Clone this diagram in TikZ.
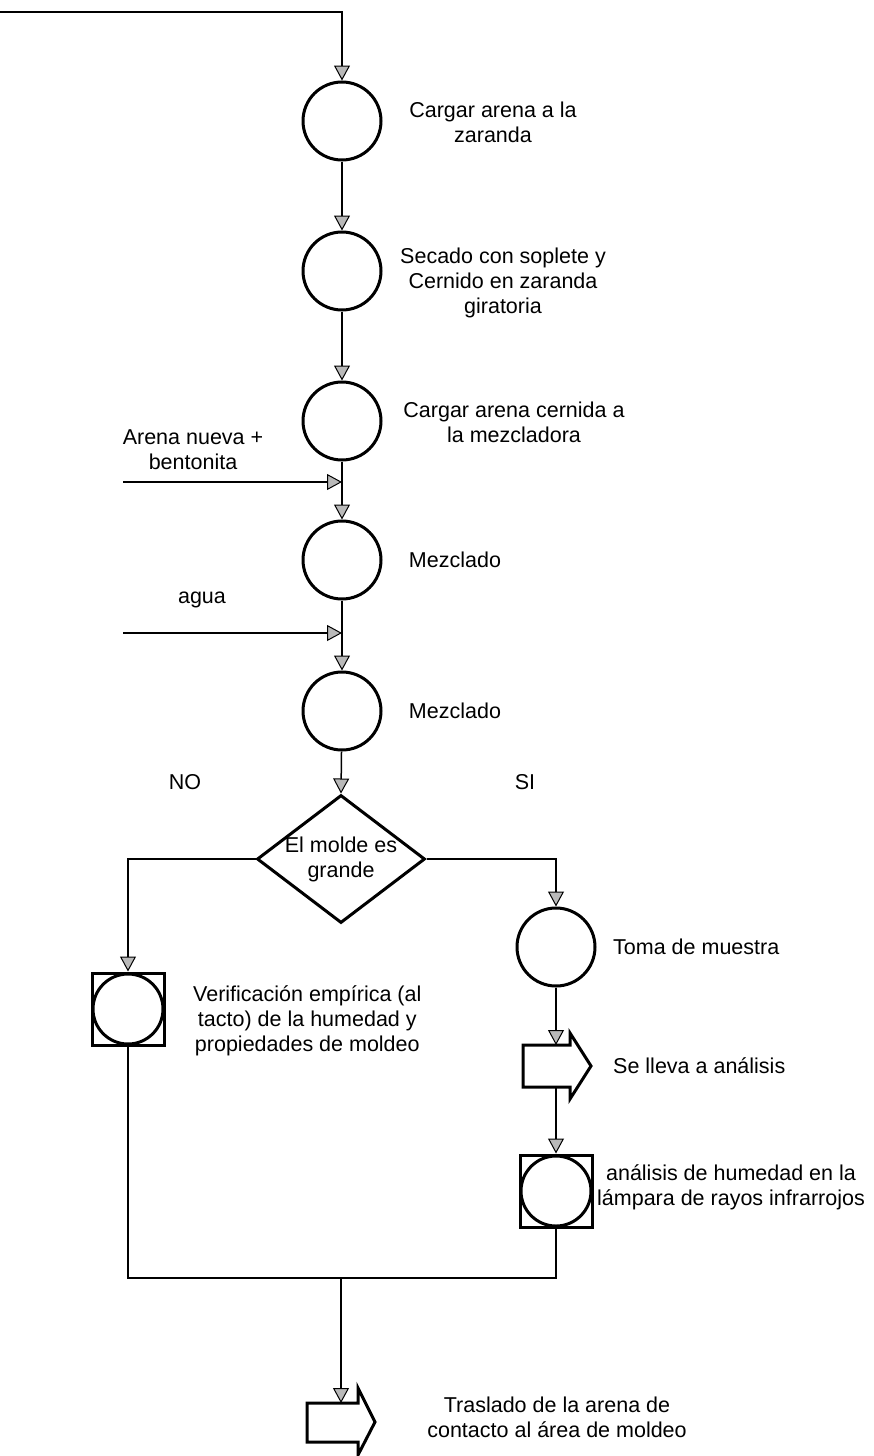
\documentclass[tikz,border=0pt]{standalone}
\usepackage{fontspec}
\setmainfont{Liberation Sans}
\usetikzlibrary{arrows.meta,shapes.geometric}
\begin{document}
\begin{tikzpicture}[x=1pt,y=-1pt,
  proc/.style={circle,draw,line width=3pt,minimum size=78pt,inner sep=0pt},
  insp/.style={draw,line width=3pt,minimum size=72pt,inner sep=0pt,
    path picture={\draw[line width=3pt] (path picture bounding box.center) circle (35pt);}},
  dec/.style={diamond,draw,line width=3pt,minimum width=168pt,minimum height=128pt,inner sep=0pt},
  lbl/.style={align=center,font=\fontsize{21.5}{25}\selectfont,inner sep=0pt},
  lline/.style={line width=1.5pt},
  conn/.style={line width=1.5pt,-{Triangle[length=15pt,width=16pt,fill=gray!55,line width=1pt]}},
  blk/.style={draw,line width=3pt,line join=miter}
]
\useasboundingbox (0,0) rectangle (874,1456);
% process circles
\node[proc] (c1) at (342,121) {};
\node[proc] (c2) at (342,271) {};
\node[proc] (c3) at (342,421) {};
\node[proc] (c4) at (342,560) {};
\node[proc] (c5) at (342,711) {};
\node[dec] (dia) at (341,859) {};
\node[lbl] (tdia) at (341,859) {El molde es\\grande};
\node[insp] (b1) at (128,1009) {};
\node[proc] (c6) at (556,947) {};
\node[insp] (b2) at (556,1191) {};
% labels
\node[lbl] (t1) at (493,122) {Cargar arena a la\\zaranda};
\node[lbl] (t2) at (503,283) {Secado con soplete y\\Cernido en zaranda\\giratoria};
\node[lbl] (t3) at (514,422) {Cargar arena cernida a\\la mezcladora};
\node[lbl] (t4) at (193,450) {Arena nueva +\\bentonita};
\node[lbl] (t5) at (455,560) {Mezclado};
\node[lbl] (t6) at (202,600) {agua};
\node[lbl] (t7) at (455,711) {Mezclado};
\node[lbl] (tno) at (185,782) {NO};
\node[lbl] (tsi) at (525,782) {SI};
\node[lbl,anchor=west] (t8) at (193,1021) {Verificación empírica (al\\tacto) de la humedad y\\propiedades de moldeo};
\node[lbl,anchor=west] (t9) at (613,947) {Toma de muestra};
\node[lbl,anchor=west] (t10) at (613,1066) {Se lleva a análisis};
\node[lbl] (t11) at (731,1187) {análisis de humedad en la\\lámpara de rayos infrarrojos};
\node[lbl] (t12) at (557,1417) {Traslado de la arena de\\contacto al área de moldeo};
% block arrows
\draw[blk] (523,1045) -- (570,1045) -- (570,1033) -- (591,1066) -- (570,1099) -- (570,1087) -- (523,1087) -- cycle;
\draw[blk] (307,1403) -- (358,1403) -- (358,1388) -- (375,1422) -- (358,1455) -- (358,1442) -- (307,1442) -- cycle;
\coordinate (a1t) at (556,1045);
\coordinate (a1b) at (556,1087);
\coordinate (a2t) at (341,1403);
% connectors
\coordinate (start) at (0,12);
\draw[conn] (start) -| (c1.north);
\draw[conn] (c1) -- (c2);
\draw[conn] (c2) -- (c3);
\draw[conn] (c3) -- (c4);
\draw[conn] (c4) -- (c5);
\draw[conn] (c5) -- (dia.north);
\coordinate (in1) at (123,482);
\coordinate (j1) at (342,482);
\draw[conn] (in1) -- (j1);
\coordinate (in2) at (123,633);
\coordinate (j2) at (342,633);
\draw[conn] (in2) -- (j2);
\draw[conn] (dia.west) -| (b1.north);
\draw[conn] (dia.east) -| (c6.north);
\draw[conn] (c6) -- (a1t);
\draw[conn] (a1b) -- (b2.north);
\coordinate (m) at (341,1278);
\draw[lline] (b1.south) |- (m);
\draw[lline] (b2.south) |- (m);
\draw[conn] (m) -- (a2t);
\end{tikzpicture}
\end{document}
